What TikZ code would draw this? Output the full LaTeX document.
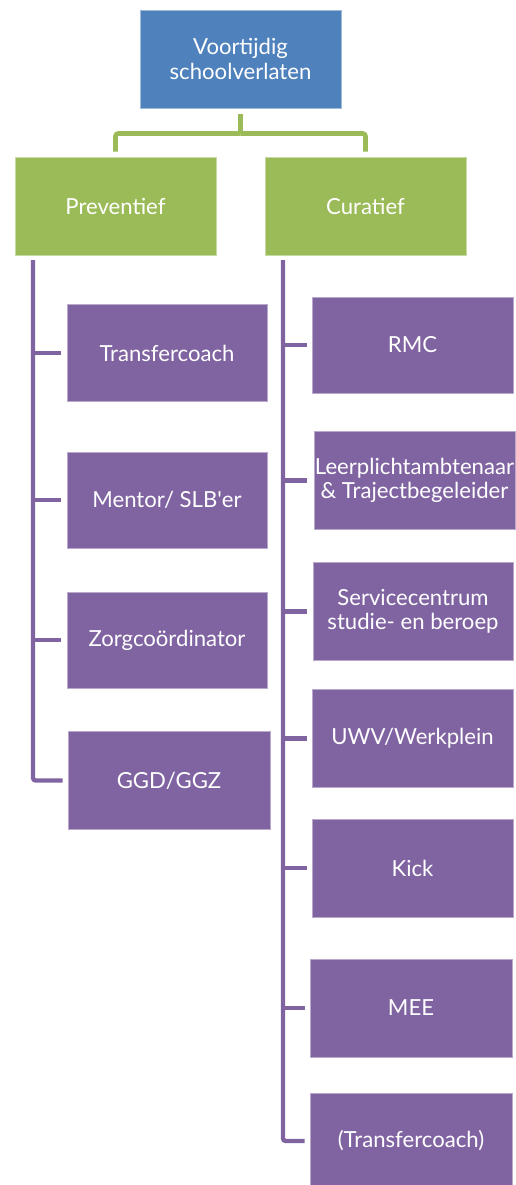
\documentclass[tikz,border=0pt]{standalone}
\usepackage{fontspec}
\setmainfont{Lato}
\usetikzlibrary{calc}
\definecolor{cblue}{HTML}{4F81BD}
\definecolor{cgreen}{HTML}{9BBB59}
\definecolor{cpurple}{HTML}{8064A2}
\begin{document}
\begin{tikzpicture}[x=0.75pt,y=-0.75pt,
  box/.style={rectangle, inner sep=0pt, align=center, text=white,
    font=\fontsize{16.6}{18.2}\selectfont, line width=0.6pt},
  bbox/.style={box, fill=cblue, draw=cblue!55!white},
  gbox/.style={box, fill=cgreen, draw=cgreen!55!white},
  pbox/.style={box, fill=cpurple, draw=cpurple!55!white},
  gline/.style={draw=cgreen, line width=3.4pt},
  pline/.style={draw=cpurple, line width=3.3pt}]
\useasboundingbox (0,0) rectangle (515,1185);
% top level
\node[bbox, minimum width=150.75pt, minimum height=73.5pt] (top) at (240.5,59) {Voortijdig\\schoolverlaten};
\node[gbox, minimum width=150.75pt, minimum height=73.5pt] (prev) at (115.5,206) {Preventief};
\node[gbox, minimum width=150.75pt, minimum height=73.5pt] (cur) at (365.5,206) {Curatief};
% left column
\node[pbox, minimum width=150pt, minimum height=73pt] (tc) at (167,353) {Transfercoach};
\node[pbox, minimum width=150pt, minimum height=72pt] (mentor) at (167,500) {Mentor/ SLB\textquotesingle er};
\node[pbox, minimum width=150pt, minimum height=72pt] (zorg) at (167,640) {Zorgcoördinator};
\node[pbox, minimum width=151.5pt, minimum height=73pt] (ggd) at (169,780.5) {GGD/GGZ};
% right column
\node[pbox, minimum width=150.75pt, minimum height=72pt] (rmc) at (412.5,345) {RMC};
\node[pbox, minimum width=150.75pt, minimum height=73pt] (leer) at (414.5,480.5) {Leerplichtambtenaar\\\& Trajectbegeleider};
\node[pbox, minimum width=150pt, minimum height=73pt] (serv) at (413,611.5) {Servicecentrum\\studie- en beroep};
\node[pbox, minimum width=150.75pt, minimum height=73pt] (uwv) at (412.5,738.5) {UWV/Werkplein};
\node[pbox, minimum width=150.75pt, minimum height=73.5pt] (kick) at (412.5,868) {Kick};
\node[pbox, minimum width=151.5pt, minimum height=73.5pt] (mee) at (411,1008) {MEE};
\node[pbox, minimum width=151.5pt, minimum height=72pt] (tc2) at (411,1141) {(Transfercoach)};
% green connectors
\coordinate (gmid) at (240.5,133.5);
\draw[gline, shorten <=4.5pt] (top.south) -- (gmid);
\draw[gline, rounded corners=2pt, shorten >=3.75pt] (gmid) -| (prev.north);
\draw[gline, rounded corners=2pt, shorten >=3.75pt] (gmid) -| (cur.north);
% left spine
\coordinate (ls) at (33,260);
\draw[pline, rounded corners=2pt, shorten >=3.75pt] (ls) |- (ggd.west);
\draw[pline, shorten >=4.5pt] (ls |- tc.west) -- (tc.west);
\draw[pline, shorten >=4.5pt] (ls |- mentor.west) -- (mentor.west);
\draw[pline, shorten >=4.5pt] (ls |- zorg.west) -- (zorg.west);
% right spine
\coordinate (rs) at (283,260);
\draw[pline, rounded corners=2pt, shorten >=3.75pt] (rs) |- (tc2.west);
\draw[pline, shorten >=3.75pt] (rs |- rmc.west) -- (rmc.west);
\draw[pline, shorten >=5.25pt] (rs |- leer.west) -- (leer.west);
\draw[pline, shorten >=4.5pt] (rs |- serv.west) -- (serv.west);
\draw[pline, shorten >=3.75pt] (rs |- uwv.west) -- (uwv.west);
\draw[pline, shorten >=3.75pt] (rs |- kick.west) -- (kick.west);
\draw[pline, shorten >=3.75pt] (rs |- mee.west) -- (mee.west);
\end{tikzpicture}
\end{document}
